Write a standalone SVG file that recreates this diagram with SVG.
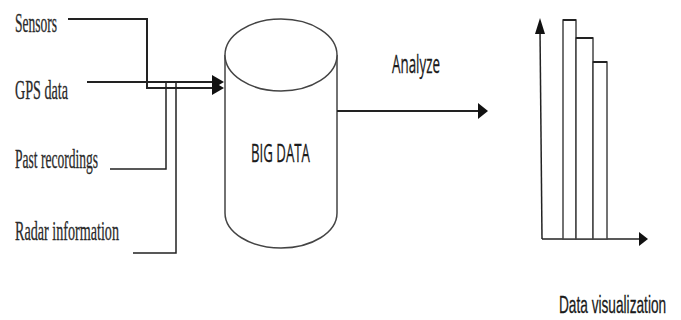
<svg xmlns="http://www.w3.org/2000/svg" width="681" height="320" viewBox="0 0 681 320">
  <style>
    .serif { font-family: "Liberation Serif", "Times New Roman", serif; font-size: 27px; fill: #2a2a2a; stroke: #2a2a2a; stroke-width: 0.3; }
    .sans { font-family: "Open Sans", "Liberation Sans", sans-serif; font-size: 25px; fill: #1a1a1a; stroke: #1a1a1a; stroke-width: 0.3; }
    .ln { stroke: #222; stroke-width: 2; fill: none; }
    .thin { stroke: #222; stroke-width: 1.5; fill: none; }
    .shape { stroke: #444; stroke-width: 1.5; fill: #fff; }
    .head { fill: #111; stroke: none; }
  </style>
  <rect width="681" height="320" fill="#fff"/>

  <g id="sensors"><text class="serif" x="15" y="32" textLength="42" lengthAdjust="spacingAndGlyphs">Sensors</text></g>
  <g id="gps-data"><text class="serif" x="15" y="99" textLength="53" lengthAdjust="spacingAndGlyphs">GPS data</text></g>
  <g id="past-recordings"><text class="serif" x="15" y="168" textLength="83" lengthAdjust="spacingAndGlyphs">Past recordings</text></g>
  <g id="radar-information"><text class="serif" x="15" y="240" textLength="104" lengthAdjust="spacingAndGlyphs">Radar information</text></g>

  <g id="big-data">
    <path class="shape" d="M225,55 L225,213 A56,35 0 0 0 337,213 L337,55"/>
    <ellipse class="shape" cx="281" cy="55" rx="56" ry="36"/>
    <text class="sans" x="251" y="162" textLength="59" lengthAdjust="spacingAndGlyphs">BIG DATA</text>
  </g>

  <g id="analyze"><text class="sans" x="392" y="73" textLength="48" lengthAdjust="spacingAndGlyphs">Analyze</text></g>

  <g id="chart">
    <path class="thin" d="M542,239 L540,30"/>
    <polygon class="head" points="540,18 535,34 545,34"/>
    <path class="thin" d="M542,239 L640,239"/>
    <polygon class="head" points="648,239 639,232 639,246"/>
    <rect class="shape" x="563" y="20" width="13" height="219"/>
    <rect class="shape" x="576" y="38" width="17" height="201"/>
    <rect class="shape" x="593" y="62" width="14" height="177"/>
    <path class="ln" d="M563,20 H576 M576,38 H593 M593,62 H607"/>
  </g>

  <g id="data-visualization" transform="translate(559,313) scale(0.57,1)"><text x="0" y="0" font-family="'Liberation Sans', Arial, sans-serif" font-size="24" fill="#1a1a1a" stroke="#1a1a1a" stroke-width="0.3">Data visualization</text></g>

  <g id="connectors">
    <path class="ln" d="M68,19 H147 V88 H216"/>
    <path class="ln" d="M87,82 H216"/>
    <polygon class="head" points="224,82 212,75 212,89"/>
    <polygon class="head" points="224,88 212,81 212,95"/>
    <path class="thin" d="M166,82 V169 H110"/>
    <path class="thin" d="M176,82 V253 H133"/>
    <path class="ln" d="M337,111 H480"/>
    <polygon class="head" points="488,111 478,103 478,119"/>
  </g>
</svg>
